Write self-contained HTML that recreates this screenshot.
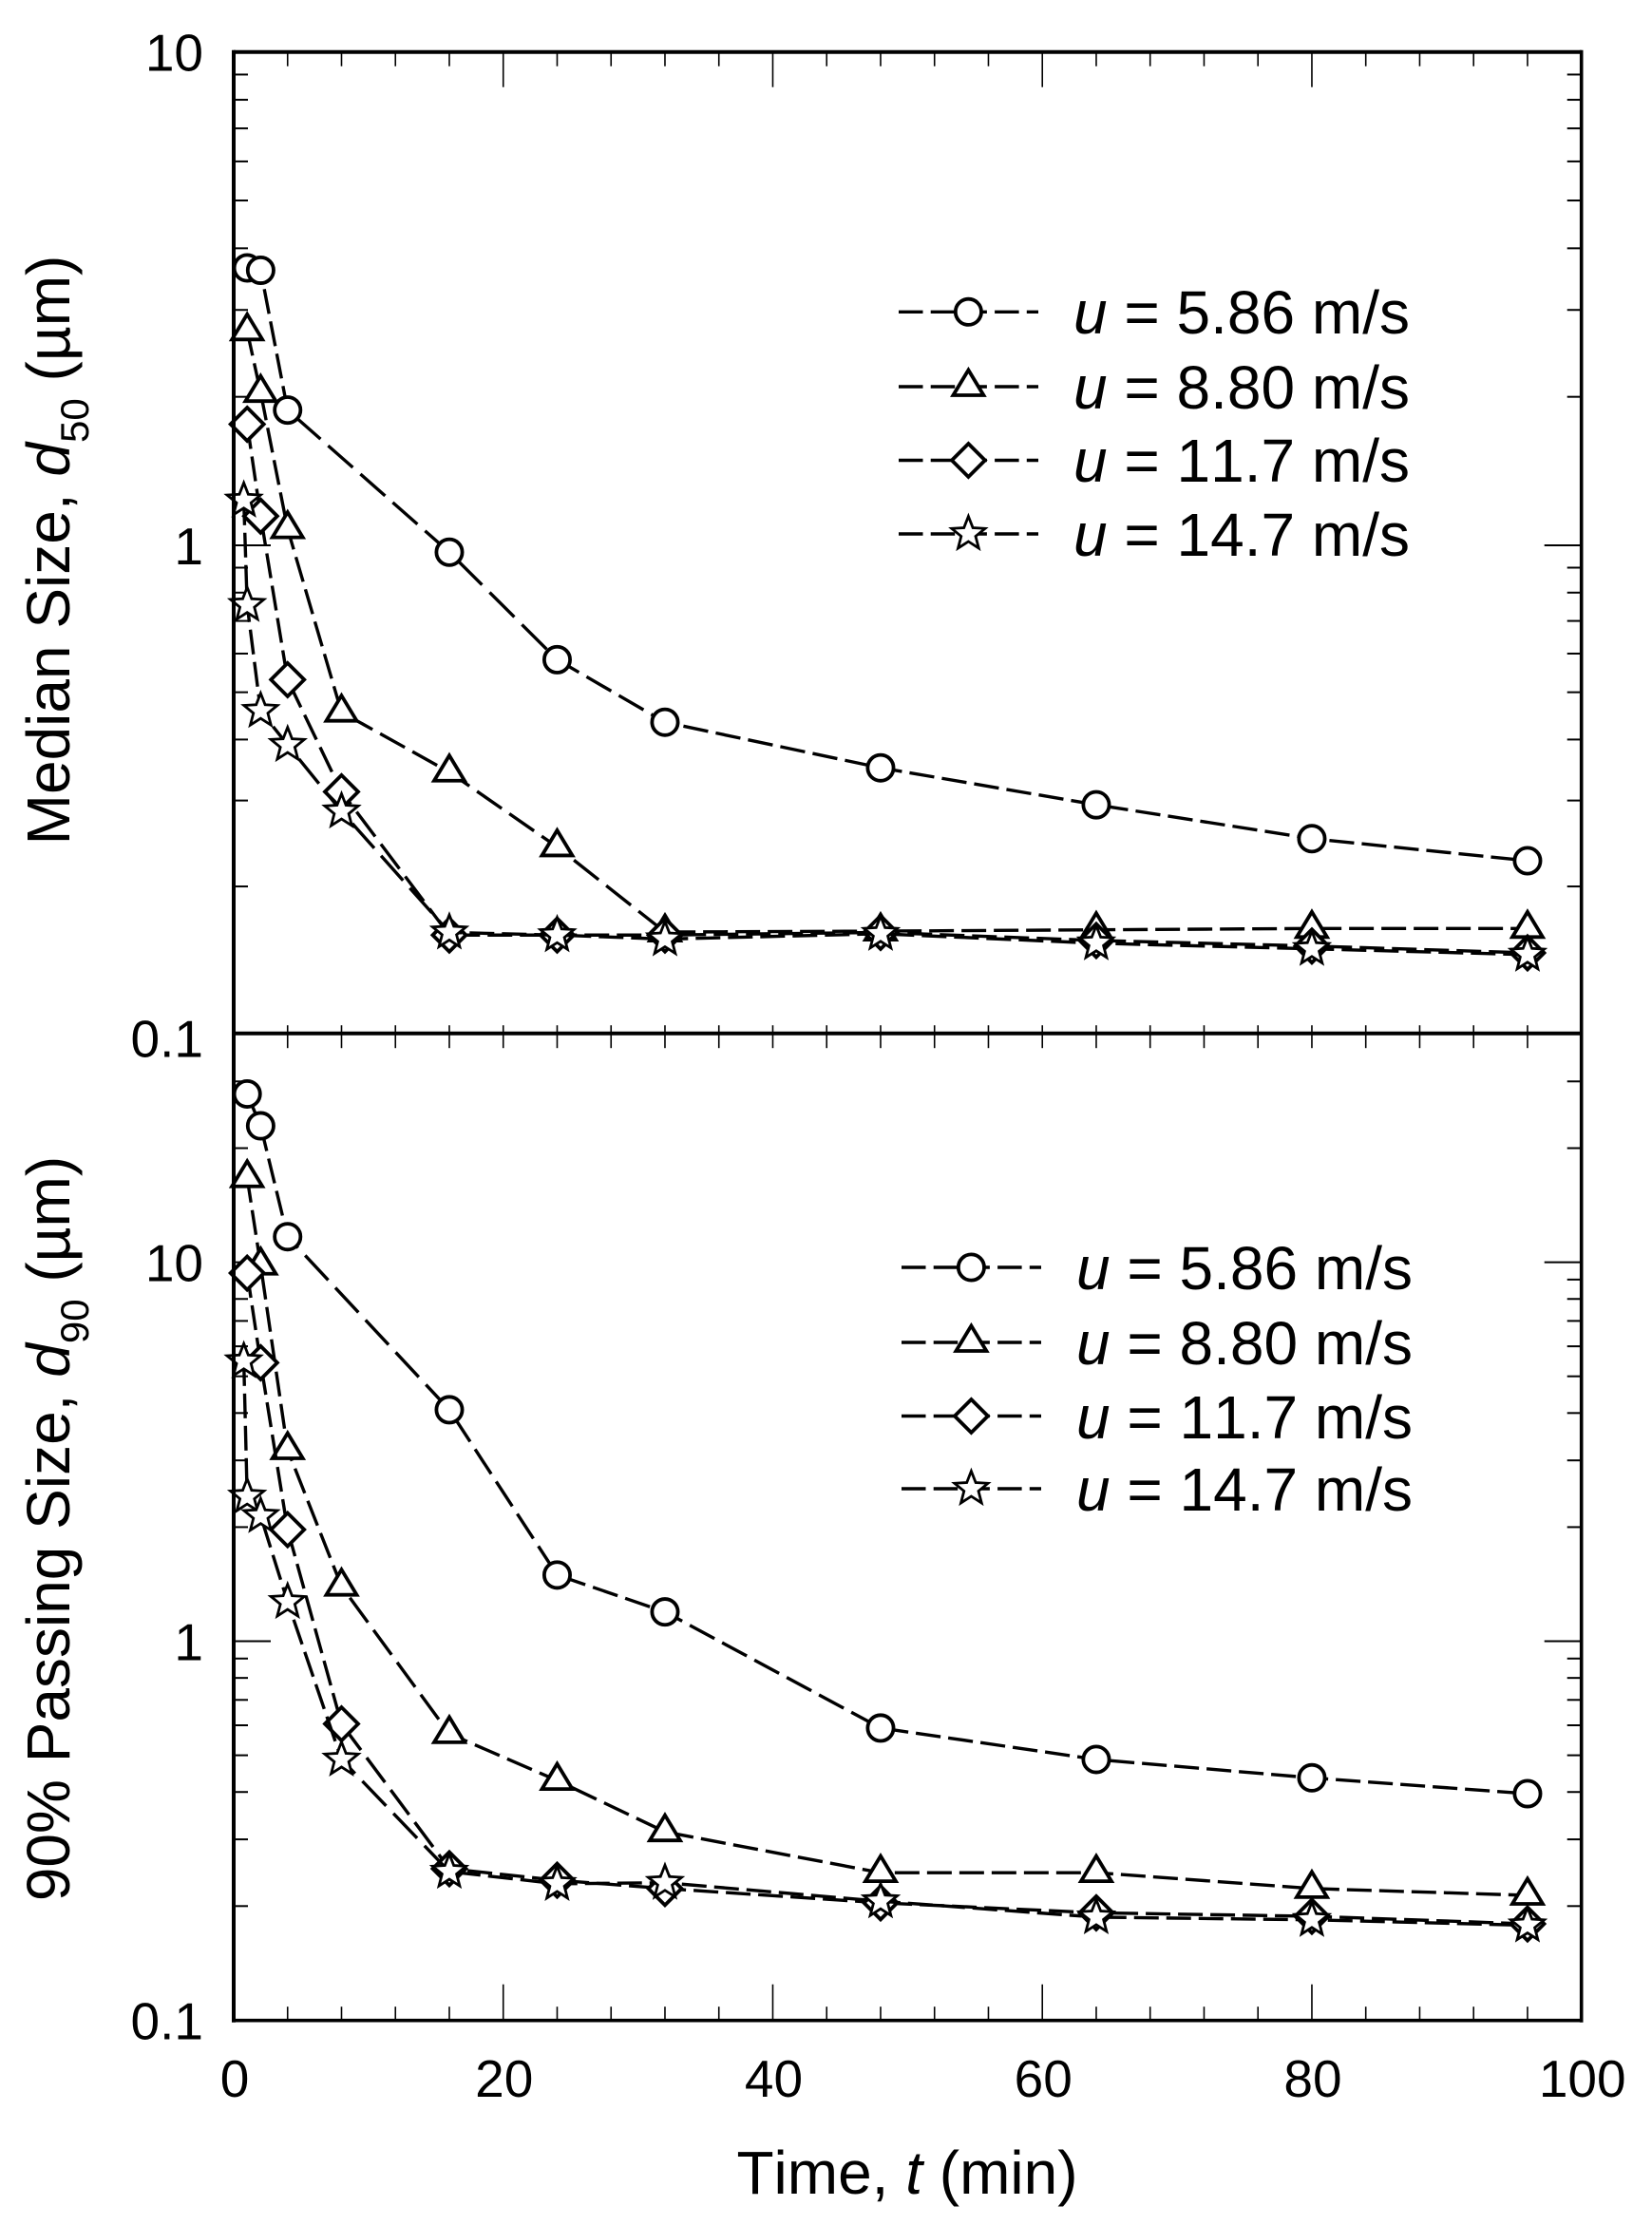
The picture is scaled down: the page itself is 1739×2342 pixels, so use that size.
<!DOCTYPE html>
<html lang="en">
<head>
<meta charset="utf-8">
<title>Median and 90% passing size versus time</title>
<style>
html,body{margin:0;padding:0;background:#fff;}
#chart{display:block;width:1739px;height:2342px;font-family:"Liberation Sans",Arial,sans-serif;fill:#000;font-kerning:none;}
</style>
</head>
<body>
<svg id="chart" xmlns="http://www.w3.org/2000/svg" width="1739" height="2342" viewBox="0 0 1739 2342">
  <rect x="0" y="0" width="1739" height="2342" fill="#fff"/>
  <g id="plot"></g>
  <text x="955" y="2309" font-size="64" text-anchor="middle">Time, <tspan font-style="italic">t</tspan> (min)</text>
  <text transform="translate(73,579) rotate(-90)" font-size="64" text-anchor="middle">Median Size, <tspan font-style="italic">d</tspan><tspan font-size="42" dy="20">50</tspan><tspan dy="-20"> (µm)</tspan></text>
  <text transform="translate(73,1609) rotate(-90)" font-size="64" text-anchor="middle">90% Passing Size, <tspan font-style="italic">d</tspan><tspan font-size="42" dy="20">90</tspan><tspan dy="-20"> (µm)</tspan></text>
  <text x="1130" y="351" font-size="64"><tspan font-style="italic">u</tspan> = 5.86 m/s</text>
  <text x="1130" y="430" font-size="64"><tspan font-style="italic">u</tspan> = 8.80 m/s</text>
  <text x="1130" y="507" font-size="64"><tspan font-style="italic">u</tspan> = 11.7 m/s</text>
  <text x="1130" y="585" font-size="64"><tspan font-style="italic">u</tspan> = 14.7 m/s</text>
  <text x="1133" y="1357" font-size="64"><tspan font-style="italic">u</tspan> = 5.86 m/s</text>
  <text x="1133" y="1436" font-size="64"><tspan font-style="italic">u</tspan> = 8.80 m/s</text>
  <text x="1133" y="1514" font-size="64"><tspan font-style="italic">u</tspan> = 11.7 m/s</text>
  <text x="1133" y="1590" font-size="64"><tspan font-style="italic">u</tspan> = 14.7 m/s</text>
</svg>
<script>
// ---- data ----
const timesCircle = [1, 2, 4, 16, 24, 32, 48, 64, 80, 96];
const timesTriangle = [1, 2, 4, 8, 16, 24, 32, 48, 64, 80, 96];
const timesDiamond = [1, 2, 4, 8, 16, 24, 32, 48, 64, 80, 96];
const timesStar = [0.75, 1, 2, 4, 8, 16, 24, 32, 48, 64, 80, 96];

const d50Circle = [3.65, 3.61, 1.88, 0.968, 0.583, 0.434, 0.350, 0.294, 0.2506, 0.2258];
const d50Triangle = [2.72, 2.04, 1.08, 0.455, 0.343, 0.241, 0.1613, 0.162, 0.163, 0.164, 0.164];
const d50Diamond = [1.76, 1.146, 0.5305, 0.3126, 0.159, 0.159, 0.159, 0.161, 0.155, 0.151, 0.1462];
const d50Star = [1.233, 0.755, 0.458, 0.39, 0.285, 0.161, 0.159, 0.156, 0.160, 0.153, 0.149, 0.145];

const d90Circle = [27.8, 22.9, 11.68, 4.08, 1.495, 1.195, 0.59, 0.4875, 0.436, 0.396];
const d90Triangle = [16.7, 9.82, 3.2, 1.396, 0.57, 0.429, 0.314, 0.245, 0.245, 0.2225, 0.2135];
const d90Diamond = [9.36, 5.43, 1.97, 0.605, 0.251, 0.234, 0.2225, 0.204, 0.192, 0.188, 0.1795];
const d90Star = [5.48, 2.41, 2.14, 1.27, 0.4875, 0.2466, 0.229, 0.2305, 0.206, 0.187, 0.184, 0.178];

const xTickLabels = ['0', '20', '40', '60', '80', '100'];
const xTickValues = [0, 20, 40, 60, 80, 100];
const topYTickLabels = ['10', '1', '0.1'];
const topYTickValues = [10, 1, 0.1];
const bottomYTickLabels = ['10', '1', '0.1'];
const bottomYTickValues = [10, 1, 0.1];
const topMinorValues = [0.2, 0.3, 0.4, 0.5, 0.6, 0.7, 0.8, 0.9, 2, 3, 4, 5, 6, 7, 8, 9];
const bottomMinorValues = [0.2, 0.3, 0.4, 0.5, 0.6, 0.7, 0.8, 0.9, 2, 3, 4, 5, 6, 7, 8, 9, 20, 30];
const xTickStep = 4;
const seriesNames = ['u-5-86', 'u-8-80', 'u-11-7', 'u-14-7'];
const seriesShapes = ['circle', 'triangle', 'diamond', 'star'];

// ---- axis functions ----
const plotLeft = 246, plotRight = 1664.7, plotTop = 54.7, plotMid = 1087.7, plotBottom = 2126.7;
function xScale(t) { return plotLeft + (plotRight - plotLeft) * t / 100; }
function topScale(v) {
  const l = Math.log10(v);
  return l >= 0 ? 574 - 519.3 * l : 574 - 513.7 * l;
}
function bottomScale(v) { return 1727.5 - 398.9 * Math.log10(v); }

const NS = 'http://www.w3.org/2000/svg';
const plot = document.getElementById('plot');
function make(tag, attrs, parent) {
  const el = document.createElementNS(NS, tag);
  for (const k in attrs) el.setAttribute(k, attrs[k]);
  (parent || plot).appendChild(el);
  return el;
}

function drawLine(name, x1, y1, x2, y2, w) {
  const el = make('line', { x1: x1, y1: y1, x2: x2, y2: y2, stroke: '#000', 'stroke-width': w });
  
  
  return el;
}

function markerPath(shape, x, y) {
  if (shape === 'triangle') {
    return 'M' + x + ' ' + (y - 17.5) + 'L' + (x + 16) + ' ' + (y + 9) + 'L' + (x - 16) + ' ' + (y + 9) + 'Z';
  }
  if (shape === 'diamond') {
    return 'M' + x + ' ' + (y - 17.5) + 'L' + (x + 17.5) + ' ' + y + 'L' + x + ' ' + (y + 17.5) + 'L' + (x - 17.5) + ' ' + y + 'Z';
  }
  let d = '';
  for (let i = 0; i < 10; i++) {
    const r = i % 2 ? 8 : 18.5;
    const a = -Math.PI / 2 + i * Math.PI / 5;
    d += (i ? 'L' : 'M') + (x + r * Math.cos(a)).toFixed(2) + ' ' + (y + r * Math.sin(a)).toFixed(2);
  }
  return d + 'Z';
}

function drawMarker(shape, x, y, name, parent) {
  let el;
  if (shape === 'circle') {
    el = make('circle', { cx: x, cy: y, r: 13.6, fill: '#fff', stroke: '#000', 'stroke-width': 3.8 }, parent);
  } else {
    el = make('path', {
      d: markerPath(shape, x, y), fill: '#fff', stroke: '#000',
      'stroke-width': shape === 'star' ? 2.8 : 3.8, 'stroke-linejoin': 'miter'
    }, parent);
  }
  
  
}

// dash lengths in the source follow the longer of dx / dy, so they are rescaled per segment
function drawSeries(times, values, yScale, shape, name) {
  const g = make('g', {});
  
  
  let run = 0;
  for (let i = 0; i < times.length - 1; i++) {
    const x1 = xScale(times[i]), y1 = yScale(values[i]);
    const x2 = xScale(times[i + 1]), y2 = yScale(values[i + 1]);
    const len = Math.hypot(x2 - x1, y2 - y1);
    const cheb = Math.max(Math.abs(x2 - x1), Math.abs(y2 - y1));
    const k = len / cheb;
    const seg = make('line', {
      x1: x1, y1: y1, x2: x2, y2: y2, stroke: '#000', 'stroke-width': 3.4,
      'stroke-dasharray': (26 * k).toFixed(2) + ' ' + (8 * k).toFixed(2),
      'stroke-dashoffset': ((run % 34) * k).toFixed(2)
    }, g);
    
    
    run += cheb;
  }
  for (let i = 0; i < times.length; i++) {
    drawMarker(shape, xScale(times[i]), yScale(values[i]), name + '-point', g);
  }
}

function drawLegendEntry(y, dx, shape, name) {
  const g = make('g', {});
  
  
  const ln = make('line', {
    x1: 946 + dx, y1: y, x2: 1093 + dx, y2: y, stroke: '#000', 'stroke-width': 3.4,
    'stroke-dasharray': '25.5 8.2'
  }, g);
  
  
  drawMarker(shape, 1019.4 + dx, y, name + '-marker', g);
}

// ---- ticks ----
for (let t = xTickStep; t < 100; t += xTickStep) {
  const x = xScale(t);
  const major = t % 20 === 0;
  drawLine('top-x-tick', x, plotTop, x, plotTop + (major ? 37 : 15), 1.6);
  drawLine('middle-x-tick', x, plotMid - 8.5, x, plotMid + 15.5, 1.6);
  drawLine('bottom-x-tick', x, plotBottom, x, plotBottom - (major ? 38 : 14.5), 1.6);
}
topMinorValues.forEach(function (v) {
  const y = topScale(v);
  drawLine('top-y-minor-tick-left', plotLeft, y, plotLeft + 15, y, 2);
  drawLine('top-y-minor-tick-right', plotRight, y, plotRight - 15, y, 2);
});
bottomMinorValues.forEach(function (v) {
  const y = bottomScale(v);
  drawLine('bottom-y-minor-tick-left', plotLeft, y, plotLeft + 15, y, 2);
  drawLine('bottom-y-minor-tick-right', plotRight, y, plotRight - 15, y, 2);
});
[1].forEach(function (v) {
  drawLine('top-y-major-tick-left', plotLeft, topScale(v), plotLeft + 39, topScale(v), 2);
  drawLine('top-y-major-tick-right', plotRight, topScale(v), plotRight - 39, topScale(v), 2);
});
[1, 10].forEach(function (v) {
  drawLine('bottom-y-major-tick-left', plotLeft, bottomScale(v), plotLeft + 39, bottomScale(v), 2);
  drawLine('bottom-y-major-tick-right', plotRight, bottomScale(v), plotRight - 39, bottomScale(v), 2);
});

// ---- series: top panel ----
drawSeries(timesCircle, d50Circle, topScale, seriesShapes[0], 'd50-' + seriesNames[0]);
drawSeries(timesTriangle, d50Triangle, topScale, seriesShapes[1], 'd50-' + seriesNames[1]);
drawSeries(timesDiamond, d50Diamond, topScale, seriesShapes[2], 'd50-' + seriesNames[2]);
drawSeries(timesStar, d50Star, topScale, seriesShapes[3], 'd50-' + seriesNames[3]);

// ---- series: bottom panel ----
drawSeries(timesCircle, d90Circle, bottomScale, seriesShapes[0], 'd90-' + seriesNames[0]);
drawSeries(timesTriangle, d90Triangle, bottomScale, seriesShapes[1], 'd90-' + seriesNames[1]);
drawSeries(timesDiamond, d90Diamond, bottomScale, seriesShapes[2], 'd90-' + seriesNames[2]);
drawSeries(timesStar, d90Star, bottomScale, seriesShapes[3], 'd90-' + seriesNames[3]);

// ---- frames ----
drawLine('left-axis', plotLeft, plotTop - 2, plotLeft, plotBottom + 2, 4);
drawLine('right-axis', plotRight, plotTop - 2, plotRight, plotBottom + 2, 3.6);
drawLine('top-axis', plotLeft, plotTop, plotRight, plotTop, 4);
drawLine('middle-axis', plotLeft, plotMid, plotRight, plotMid, 4);
drawLine('bottom-axis', plotLeft, plotBottom, plotRight, plotBottom, 3.6);

// ---- legends ----
[328.3, 407, 484.5, 562].forEach(function (y, i) {
  drawLegendEntry(y, 0, seriesShapes[i], 'legend-top-' + seriesNames[i]);
});
[1334, 1413, 1490.5, 1567].forEach(function (y, i) {
  drawLegendEntry(y, 3, seriesShapes[i], 'legend-bottom-' + seriesNames[i]);
});

// ---- tick labels ----
function drawLabel(name, str, x, y, anchor) {
  const el = make('text', { x: x, y: y, 'font-size': 55, 'text-anchor': anchor });
  el.textContent = str;
  
  
}
xTickValues.forEach(function (t, i) {
  drawLabel('x-tick-label', xTickLabels[i], xScale(t) + 1, 2207, 'middle');
});
topYTickValues.forEach(function (v, i) {
  drawLabel('top-y-tick-label', topYTickLabels[i], 214, topScale(v) + (v === 0.1 ? 25 : 20), 'end');
});
bottomYTickValues.forEach(function (v, i) {
  drawLabel('bottom-y-tick-label', bottomYTickLabels[i], 214, bottomScale(v) + 20, 'end');
});
</script>
</body>
</html>
